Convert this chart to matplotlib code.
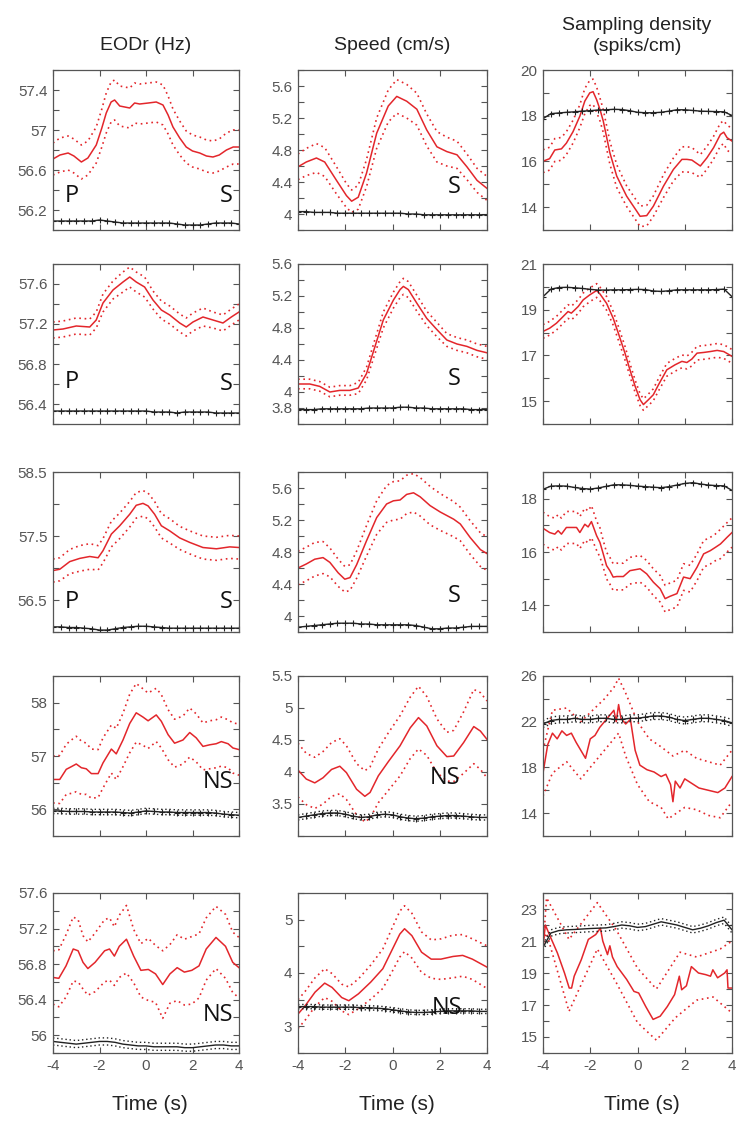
import numpy as np
import matplotlib.pyplot as plt

plt.rcParams['font.family'] = ['Liberation Sans Narrow', 'Liberation Sans', 'DejaVu Sans']

# ---------------- data ----------------
ctrl_t = np.arange(-4, 4.001, 1 / 3)   # control trace sampling (25 points)

# row 1
eod1_t = [-4, -3.7, -3.35, -3.1, -2.78, -2.5, -2.14, -1.9, -1.71, -1.5, -1.35, -1.13, -0.7, -0.49, -0.27,
          0.1, 0.44, 0.73, 0.95, 1.16, 1.45, 1.73, 2.0, 2.31, 2.6, 2.88, 3.15, 3.46, 3.75, 4.0]
eod1_mean = [56.71, 56.75, 56.77, 56.74, 56.68, 56.72, 56.85, 57.02, 57.17, 57.28, 57.30, 57.24, 57.22, 57.27, 57.26,
             57.27, 57.28, 57.25, 57.15, 57.03, 56.92, 56.83, 56.79, 56.77, 56.74, 56.73, 56.75, 56.80, 56.83, 56.83]
eod1_sem = [0.16, 0.17, 0.17, 0.17, 0.17, 0.17, 0.18, 0.19, 0.2, 0.2, 0.2, 0.2, 0.2, 0.2, 0.2,
            0.2, 0.2, 0.2, 0.19, 0.18, 0.17, 0.16, 0.16, 0.16, 0.16, 0.16, 0.16, 0.17, 0.17, 0.17]
eod1_ctrl = [56.09, 56.09, 56.09, 56.09, 56.09, 56.09, 56.1, 56.09, 56.08, 56.07, 56.07, 56.07, 56.07,
             56.07, 56.07, 56.07, 56.06, 56.05, 56.05, 56.05, 56.06, 56.07, 56.07, 56.07, 56.06]

spd1_t = [-4, -3.65, -3.22, -2.87, -2.37, -1.95, -1.73, -1.45, -1.1, -0.67, -0.18, 0.18, 0.6, 1.03, 1.45,
          1.88, 2.3, 2.73, 3.15, 3.58, 4.0]
spd1_mean = [4.59, 4.65, 4.70, 4.65, 4.42, 4.23, 4.16, 4.21, 4.51, 5.01, 5.35, 5.47, 5.41, 5.31, 5.05,
             4.84, 4.78, 4.74, 4.59, 4.42, 4.32]
spd1_sem = [0.16, 0.17, 0.18, 0.18, 0.17, 0.15, 0.14, 0.15, 0.17, 0.19, 0.2, 0.21, 0.21, 0.2, 0.2,
            0.19, 0.18, 0.17, 0.16, 0.15, 0.15]
spd1_ctrl = [4.03, 4.03, 4.02, 4.02, 4.02, 4.01, 4.01, 4.01, 4.01, 4.01, 4.01, 4.01, 4.01,
             4.01, 4.0, 4.0, 3.99, 3.99, 3.99, 3.99, 3.99, 3.99, 3.99, 3.99, 3.99]

den1_t = [-4, -3.72, -3.5, -3.22, -3.01, -2.73, -2.44, -2.23, -2.02, -1.88, -1.73, -1.59, -1.45, -1.17, -0.88,
          -0.46, -0.03, 0.11, 0.39, 0.67, 1.1, 1.52, 1.88, 2.09, 2.3, 2.66, 2.94, 3.22, 3.51, 3.65, 3.79, 4.0]
den1_mean = [16.01, 16.12, 16.5, 16.55, 16.8, 17.3, 17.98, 18.64, 19.0, 19.05, 18.7, 18.28, 17.77, 16.38, 15.36,
             14.48, 13.82, 13.6, 13.63, 14.04, 14.92, 15.65, 16.09, 16.09, 16.06, 15.8, 16.16, 16.6, 17.18, 17.28,
             17.04, 16.89]
den1_sem = [0.5, 0.5, 0.5, 0.5, 0.5, 0.5, 0.5, 0.55, 0.55, 0.55, 0.55, 0.5, 0.5, 0.5, 0.5,
            0.45, 0.45, 0.45, 0.45, 0.45, 0.5, 0.5, 0.55, 0.55, 0.55, 0.5, 0.5, 0.5, 0.5, 0.5, 0.55, 0.55]
den1_ctrl = [17.87, 18.09, 18.12, 18.15, 18.17, 18.2, 18.22, 18.25, 18.26, 18.28, 18.27, 18.22, 18.15,
             18.13, 18.13, 18.15, 18.2, 18.26, 18.26, 18.23, 18.2, 18.19, 18.18, 18.17, 18.01]

# row 2
eod2_t = [-4, -3.57, -3.0, -2.42, -2.14, -1.85, -1.42, -0.99, -0.7, -0.42, -0.06, 0.3, 0.66, 1.02, 1.45,
          1.73, 2.02, 2.45, 2.88, 3.31, 3.67, 4.0]
eod2_mean = [57.14, 57.15, 57.18, 57.17, 57.24, 57.41, 57.54, 57.62, 57.67, 57.62, 57.57, 57.44, 57.34, 57.29,
             57.21, 57.17, 57.22, 57.27, 57.24, 57.21, 57.27, 57.32]
eod2_sem = [0.08, 0.08, 0.08, 0.08, 0.08, 0.09, 0.09, 0.1, 0.1, 0.1, 0.1, 0.09, 0.09, 0.09, 0.09,
            0.09, 0.09, 0.09, 0.08, 0.08, 0.08, 0.08]
eod2_ctrl = [56.33, 56.33, 56.33, 56.33, 56.33, 56.33, 56.33, 56.33, 56.33, 56.33, 56.33, 56.33, 56.33,
             56.32, 56.32, 56.32, 56.31, 56.32, 56.32, 56.32, 56.32, 56.31, 56.31, 56.31, 56.31]

spd2_t = [-4, -3.5, -3.08, -2.65, -2.23, -1.8, -1.45, -1.1, -0.74, -0.39, 0.04, 0.32, 0.46, 0.67, 1.03,
          1.45, 1.88, 2.3, 2.73, 3.15, 3.58, 4.0]
spd2_mean = [4.10, 4.10, 4.07, 4.0, 4.02, 4.02, 4.05, 4.23, 4.57, 4.9, 5.15, 5.28, 5.32, 5.28, 5.11,
             4.92, 4.78, 4.65, 4.6, 4.57, 4.52, 4.49]
spd2_sem = [0.06, 0.06, 0.06, 0.06, 0.06, 0.06, 0.07, 0.08, 0.09, 0.1, 0.1, 0.1, 0.1, 0.1, 0.1,
            0.09, 0.09, 0.08, 0.08, 0.08, 0.08, 0.08]
spd2_ctrl = [3.78, 3.78, 3.78, 3.79, 3.79, 3.79, 3.79, 3.79, 3.79, 3.80, 3.80, 3.80, 3.80,
             3.81, 3.81, 3.80, 3.80, 3.79, 3.79, 3.79, 3.79, 3.79, 3.78, 3.78, 3.78]

den2_t = [-4, -3.72, -3.43, -3.15, -2.94, -2.8, -2.51, -2.3, -2.02, -1.73, -1.59, -1.31, -1.03, -0.81, -0.53,
          -0.32, -0.1, 0.11, 0.25, 0.46, 0.67, 0.89, 1.24, 1.59, 1.88, 2.09, 2.3, 2.52, 2.8, 3.08, 3.37, 3.65, 4.0]
den2_mean = [18.05, 18.19, 18.41, 18.7, 18.92, 18.85, 19.14, 19.43, 19.65, 19.84, 19.69, 19.28, 18.63, 17.97, 17.1,
             16.37, 15.65, 15.06, 14.85, 15.06, 15.28, 15.72, 16.37, 16.59, 16.74, 16.69, 16.84, 17.1, 17.13,
             17.17, 17.22, 17.17, 16.96]
den2_sem = [0.3, 0.3, 0.3, 0.3, 0.3, 0.3, 0.3, 0.3, 0.3, 0.3, 0.3, 0.3, 0.3, 0.3, 0.3,
            0.28, 0.27, 0.26, 0.25, 0.25, 0.26, 0.27, 0.28, 0.28, 0.28, 0.28, 0.3, 0.3, 0.3, 0.3, 0.3, 0.3, 0.3]
den2_ctrl = [19.57, 19.9, 19.97, 19.98, 19.96, 19.93, 19.89, 19.86, 19.86, 19.87, 19.87, 19.88, 19.89,
             19.88, 19.82, 19.8, 19.83, 19.87, 19.87, 19.87, 19.87, 19.87, 19.88, 19.9, 19.57]

# row 3
eod3_t = [-4, -3.71, -3.28, -2.85, -2.42, -2.06, -1.85, -1.49, -1.13, -0.7, -0.42, -0.13, 0.09, 0.37, 0.66,
          1.02, 1.45, 1.88, 2.45, 3.03, 3.6, 4.0]
eod3_mean = [56.96, 56.98, 57.10, 57.15, 57.18, 57.16, 57.27, 57.53, 57.66, 57.84, 57.98, 58.01, 57.97, 57.84,
             57.66, 57.58, 57.47, 57.40, 57.32, 57.30, 57.33, 57.32]
eod3_sem = [0.18, 0.18, 0.19, 0.2, 0.2, 0.19, 0.19, 0.2, 0.2, 0.2, 0.2, 0.2, 0.2, 0.2, 0.19,
            0.19, 0.18, 0.18, 0.18, 0.18, 0.18, 0.18]
eod3_ctrl = [56.08, 56.08, 56.07, 56.07, 56.06, 56.05, 56.03, 56.03, 56.05, 56.07, 56.08, 56.09, 56.09,
             56.08, 56.07, 56.06, 56.06, 56.06, 56.06, 56.06, 56.06, 56.06, 56.06, 56.06, 56.06]

spd3_t = [-4, -3.65, -3.29, -2.94, -2.65, -2.3, -2.02, -1.8, -1.52, -1.1, -0.67, -0.25, 0.04, 0.32, 0.6,
          0.89, 1.17, 1.59, 2.02, 2.59, 2.87, 3.29, 3.72, 4.0]
spd3_mean = [4.60, 4.65, 4.71, 4.73, 4.67, 4.54, 4.46, 4.48, 4.64, 4.94, 5.23, 5.40, 5.44, 5.45, 5.52,
             5.54, 5.49, 5.38, 5.30, 5.21, 5.15, 4.98, 4.83, 4.78]
spd3_sem = [0.21, 0.21, 0.21, 0.2, 0.18, 0.17, 0.16, 0.16, 0.17, 0.19, 0.21, 0.23, 0.24, 0.24, 0.24,
            0.24, 0.24, 0.24, 0.23, 0.22, 0.21, 0.21, 0.21, 0.21]
spd3_ctrl = [3.86, 3.87, 3.88, 3.89, 3.90, 3.91, 3.91, 3.91, 3.90, 3.90, 3.89, 3.89, 3.89,
             3.89, 3.89, 3.88, 3.86, 3.84, 3.84, 3.85, 3.85, 3.86, 3.87, 3.87, 3.87]

den3_t = [-4, -3.72, -3.5, -3.36, -3.22, -3.01, -2.58, -2.44, -2.23, -2.09, -1.95, -1.73, -1.59, -1.45, -1.31,
          -1.17, -1.03, -0.88, -0.6, -0.32, 0.11, 0.39, 0.67, 0.96, 1.17, 1.38, 1.67, 1.95, 2.23, 2.52, 2.8,
          3.08, 3.29, 3.51, 3.79, 4.0]
den3_mean = [16.89, 16.73, 16.67, 16.8, 16.67, 16.92, 16.92, 16.73, 17.04, 16.94, 17.14, 16.61, 16.36, 15.93, 15.49,
             15.30, 15.06, 15.08, 15.08, 15.3, 15.37, 15.18, 14.87, 14.62, 14.25, 14.34, 14.44, 15.06, 15.0, 15.43,
             15.93, 16.05, 16.17, 16.30, 16.55, 16.73]
den3_sem = [0.6, 0.6, 0.6, 0.6, 0.6, 0.6, 0.6, 0.6, 0.6, 0.6, 0.6, 0.55, 0.55, 0.5, 0.5,
            0.5, 0.5, 0.5, 0.5, 0.5, 0.5, 0.5, 0.5, 0.5, 0.5, 0.5, 0.5, 0.5, 0.5, 0.5,
            0.5, 0.5, 0.5, 0.55, 0.55, 0.55]
den3_ctrl = [18.35, 18.47, 18.48, 18.47, 18.42, 18.38, 18.36, 18.40, 18.46, 18.52, 18.52, 18.5, 18.47,
             18.45, 18.43, 18.41, 18.45, 18.51, 18.57, 18.6, 18.55, 18.51, 18.49, 18.48, 18.31]

# row 4
eod4_t = [-4, -3.71, -3.43, -3.21, -3.0, -2.78, -2.57, -2.35, -2.06, -1.85, -1.49, -1.28, -0.99, -0.7, -0.42,
          -0.13, 0.09, 0.44, 0.66, 0.95, 1.23, 1.59, 1.88, 2.16, 2.45, 2.74, 3.02, 3.24, 3.53, 3.74, 4.0]
eod4_mean = [56.56, 56.56, 56.75, 56.80, 56.85, 56.78, 56.76, 56.67, 56.67, 56.87, 57.13, 57.04, 57.30, 57.61,
             57.81, 57.73, 57.66, 57.77, 57.65, 57.40, 57.24, 57.30, 57.44, 57.34, 57.18, 57.21, 57.23, 57.27,
             57.23, 57.15, 57.12]
eod4_sem = [0.44, 0.45, 0.47, 0.5, 0.52, 0.5, 0.48, 0.46, 0.45, 0.47, 0.45, 0.48, 0.5, 0.55, 0.55,
            0.53, 0.52, 0.5, 0.5, 0.47, 0.45, 0.45, 0.46, 0.45, 0.44, 0.45, 0.45, 0.46, 0.45, 0.47, 0.48]
eod4_ctrl = [55.97, 55.97, 55.96, 55.96, 55.96, 55.95, 55.95, 55.95, 55.95, 55.94, 55.93, 55.95, 55.97,
             55.96, 55.95, 55.95, 55.94, 55.94, 55.94, 55.94, 55.94, 55.93, 55.91, 55.90, 55.89]

spd4_t = [-4, -3.65, -3.29, -2.94, -2.58, -2.23, -1.95, -1.52, -1.17, -0.95, -0.6, -0.18, 0.32, 0.75, 1.1,
          1.45, 1.88, 2.3, 2.59, 3.01, 3.44, 3.72, 4.0]
spd4_mean = [4.03, 3.89, 3.83, 3.91, 4.04, 4.09, 3.99, 3.73, 3.62, 3.68, 3.94, 4.16, 4.41, 4.69, 4.85,
             4.72, 4.41, 4.24, 4.25, 4.46, 4.71, 4.64, 4.51]
spd4_sem = [0.42, 0.4, 0.4, 0.41, 0.42, 0.43, 0.42, 0.4, 0.4, 0.4, 0.42, 0.45, 0.47, 0.48, 0.49,
            0.46, 0.42, 0.38, 0.4, 0.48, 0.58, 0.6, 0.6]
spd4_ctrl = [3.29, 3.31, 3.33, 3.35, 3.36, 3.36, 3.34, 3.31, 3.29, 3.3, 3.33, 3.34, 3.33,
             3.3, 3.28, 3.27, 3.28, 3.3, 3.31, 3.32, 3.32, 3.31, 3.3, 3.29, 3.29]

den4_t = [-4, -3.8, -3.6, -3.4, -3.2, -3.0, -2.8, -2.6, -2.4, -2.2, -2.0, -1.8, -1.6, -1.4, -1.2, -1.0, -0.9,
          -0.8, -0.7, -0.5, -0.3, -0.1, 0.1, 0.4, 0.7, 1.0, 1.2, 1.4, 1.5, 1.6, 1.8, 2.0, 2.3, 2.6, 3.0, 3.4,
          3.7, 4.0]
den4_mean = [17.5, 20.0, 21.0, 20.5, 21.2, 20.8, 21.0, 20.2, 19.5, 18.8, 20.5, 20.8, 21.5, 22.0, 22.5, 23.0, 22.0,
             23.5, 22.3, 21.8, 22.2, 19.5, 18.2, 17.8, 17.6, 17.2, 17.4, 16.5, 15.0, 16.8, 16.2, 17.0, 16.6, 16.2,
             16.0, 15.8, 16.2, 17.2]
den4_up_t = [-4, -3.6, -3.0, -2.4, -2.0, -1.4, -1.0, -0.8, -0.5, 0.0, 0.5, 1.0, 1.5, 2.0, 2.5, 3.0, 3.5, 4.0]
den4_up = [19.5, 23.0, 23.2, 22.0, 22.8, 24.0, 25.0, 25.8, 24.5, 22.0, 20.5, 19.8, 19.0, 19.5, 18.8, 18.5, 18.2, 19.5]
den4_lo_t = [-4, -3.6, -3.0, -2.4, -2.0, -1.4, -1.0, -0.8, -0.5, 0.0, 0.5, 1.0, 1.3, 2.0, 2.5, 3.0, 3.5, 4.0]
den4_lo = [15.5, 17.5, 18.5, 17.0, 18.0, 19.5, 20.5, 21.0, 19.0, 16.5, 15.0, 14.5, 13.5, 14.5, 14.3, 13.8, 13.6, 15.0]
den4_ctrl = [21.8, 22.1, 22.2, 22.2, 22.3, 22.2, 22.2, 22.3, 22.3, 22.2, 22.2, 22.3, 22.3,
             22.4, 22.5, 22.5, 22.4, 22.2, 22.1, 22.2, 22.3, 22.3, 22.2, 22.1, 21.9]

# row 5
eod5_t = [-4, -3.75, -3.44, -3.13, -2.92, -2.71, -2.5, -2.19, -1.78, -1.57, -1.36, -1.15, -0.84, -0.53, -0.22,
          0.1, 0.41, 0.72, 1.03, 1.34, 1.65, 1.97, 2.28, 2.59, 3.01, 3.42, 3.73, 4.0]
eod5_mean = [56.65, 56.64, 56.78, 56.97, 56.95, 56.82, 56.75, 56.82, 56.95, 56.97, 56.89, 57.0, 57.08, 56.89,
             56.73, 56.74, 56.69, 56.57, 56.69, 56.76, 56.71, 56.73, 56.78, 56.97, 57.10, 57.0, 56.82, 56.76]
eod5_sem = [0.3, 0.32, 0.35, 0.36, 0.35, 0.3, 0.3, 0.33, 0.35, 0.35, 0.33, 0.35, 0.38, 0.3,
            0.3, 0.35, 0.32, 0.38, 0.33, 0.37, 0.37, 0.38, 0.36, 0.35, 0.35, 0.36, 0.34, 0.34]
eod5_ctrl = [55.93, 55.92, 55.91, 55.9, 55.91, 55.92, 55.93, 55.93, 55.92, 55.9, 55.89, 55.88, 55.88,
             55.87, 55.87, 55.87, 55.87, 55.86, 55.86, 55.87, 55.88, 55.89, 55.89, 55.88, 55.88]

spd5_t = [-4, -3.69, -3.28, -2.87, -2.56, -2.15, -1.85, -1.44, -0.92, -0.41, 0.0, 0.31, 0.51, 0.82, 1.23,
          1.64, 2.05, 2.56, 2.97, 3.38, 4.0]
spd5_mean = [3.23, 3.39, 3.64, 3.81, 3.73, 3.54, 3.48, 3.61, 3.83, 4.08, 4.45, 4.73, 4.83, 4.70, 4.39,
             4.26, 4.26, 4.31, 4.33, 4.26, 4.11]
spd5_sem = [0.27, 0.27, 0.27, 0.27, 0.26, 0.25, 0.26, 0.28, 0.32, 0.37, 0.41, 0.43, 0.43, 0.42, 0.38,
            0.36, 0.38, 0.4, 0.39, 0.38, 0.4]
spd5_ctrl = [3.37, 3.37, 3.37, 3.36, 3.36, 3.36, 3.36, 3.36, 3.35, 3.35, 3.34, 3.33, 3.31,
             3.29, 3.27, 3.26, 3.26, 3.27, 3.28, 3.29, 3.29, 3.29, 3.29, 3.28, 3.28]

den5_t = [-4, -3.9, -3.7, -3.39, -3.09, -2.89, -2.79, -2.68, -2.38, -2.08, -1.77, -1.57, -1.47, -1.27, -1.17,
          -1.06, -0.86, -0.46, -0.15, 0.05, 0.35, 0.66, 0.96, 1.26, 1.57, 1.77, 1.87, 2.07, 2.28, 2.58, 2.88,
          3.09, 3.19, 3.39, 3.69, 3.79, 3.83, 4.0]
den5_mean = [20.67, 22.0, 21.3, 20.25, 19.0, 18.06, 18.06, 18.8, 19.83, 21.1, 21.4, 21.8, 21.0, 20.15, 20.7,
             20.0, 19.4, 18.6, 17.85, 17.75, 16.9, 16.1, 16.3, 16.9, 17.65, 18.8, 17.95, 18.2, 19.4, 19.0,
             18.9, 18.8, 19.2, 18.7, 19.0, 19.2, 18.06, 18.06]
den5_up_t = [-4, -3.85, -2.9, -1.7, -0.9, 0.0, 0.8, 1.8, 2.5, 3.5, 4.0]
den5_up = [20.5, 23.7, 21.1, 23.4, 21.7, 19.3, 18.0, 20.3, 20.0, 20.5, 21.0]
den5_lo_t = [-4, -3.85, -2.9, -1.7, -0.9, 0.0, 0.8, 1.6, 2.5, 3.2, 4.0]
den5_lo = [21.0, 21.5, 16.6, 20.5, 18.4, 15.9, 14.8, 16.2, 17.3, 17.5, 16.5]
den5_ctrl = [20.6, 21.5, 21.65, 21.7, 21.72, 21.75, 21.78, 21.8, 21.82, 21.9, 22.0, 21.95, 21.85,
             21.9, 22.05, 22.2, 22.1, 22.0, 21.85, 21.7, 21.8, 21.95, 22.15, 22.3, 21.7]

ctrl_sem_row4 = [0.05, 0.04, 0.3]
ctrl_sem_row5 = [0.04, 0.04, 0.2]

col_titles = ['EODr (Hz)', 'Speed (cm/s)', 'Sampling density\n(spiks/cm)']
row_labels = [('P', 'S'), ('P', 'S'), ('P', 'S'), ('', 'NS'), ('', 'NS')]

# ---------------- layout ----------------
W, H = 750, 1125
col_left = [53, 298, 543]
col_w = [186, 189, 189]
row_top = [70, 264, 472, 676, 893]
ax_h = 160

RED = '#e3262b'
GREY = '#555555'

panels = [
    [(eod1_t, eod1_mean, eod1_sem, eod1_ctrl), (spd1_t, spd1_mean, spd1_sem, spd1_ctrl),
     (den1_t, den1_mean, den1_sem, den1_ctrl)],
    [(eod2_t, eod2_mean, eod2_sem, eod2_ctrl), (spd2_t, spd2_mean, spd2_sem, spd2_ctrl),
     (den2_t, den2_mean, den2_sem, den2_ctrl)],
    [(eod3_t, eod3_mean, eod3_sem, eod3_ctrl), (spd3_t, spd3_mean, spd3_sem, spd3_ctrl),
     (den3_t, den3_mean, den3_sem, den3_ctrl)],
    [(eod4_t, eod4_mean, eod4_sem, eod4_ctrl), (spd4_t, spd4_mean, spd4_sem, spd4_ctrl),
     (den4_t, den4_mean, None, den4_ctrl)],
    [(eod5_t, eod5_mean, eod5_sem, eod5_ctrl), (spd5_t, spd5_mean, spd5_sem, spd5_ctrl),
     (den5_t, den5_mean, None, den5_ctrl)],
]
bands = {(3, 2): (den4_up_t, den4_up, den4_lo_t, den4_lo),
         (4, 2): (den5_up_t, den5_up, den5_lo_t, den5_lo)}

# (ylim, tick step, labelled ticks)
yaxes = [
    [((56.0, 57.6), 0.2, [56.2, 56.6, 57, 57.4]), ((3.8, 5.8), 0.2, [4, 4.4, 4.8, 5.2, 5.6]),
     ((13, 20), 1, [14, 16, 18, 20])],
    [((56.2, 57.8), 0.2, [56.4, 56.8, 57.2, 57.6]), ((3.6, 5.6), 0.2, [3.8, 4, 4.4, 4.8, 5.2, 5.6]),
     ((14, 21), 1, [15, 17, 19, 21])],
    [((56.0, 58.5), 0.5, [56.5, 57.5, 58.5]), ((3.8, 5.8), 0.2, [4, 4.4, 4.8, 5.2, 5.6]),
     ((13, 19), 1, [14, 16, 18])],
    [((55.5, 58.5), 0.5, [56, 57, 58]), ((3.0, 5.5), 0.5, [3.5, 4, 4.5, 5, 5.5]),
     ((12, 26), 2, [14, 18, 22, 26])],
    [((55.8, 57.6), 0.2, [56, 56.4, 56.8, 57.2, 57.6]), ((2.5, 5.5), 0.5, [3, 4, 5]),
     ((14, 24), 1, [15, 17, 19, 21, 23])],
]

# label positions (axes fraction)
left_lab_y = [0.21, 0.26, 0.19, 0.34, 0.24]
right_lab = [[(0.93, 0.21), (0.825, 0.27)], [(0.93, 0.25), (0.825, 0.28)], [(0.93, 0.19), (0.825, 0.225)],
             [(0.887, 0.34), (0.78, 0.36)], [(0.887, 0.24), (0.79, 0.28)]]

fig = plt.figure(figsize=(W / 100, H / 100), dpi=100)

for r in range(5):
    for c in range(3):
        ax = fig.add_axes([col_left[c] / W, 1 - (row_top[r] + ax_h) / H, col_w[c] / W, ax_h / H])
        t, m, s, ctrl = panels[r][c]
        t = np.array(t)
        m = np.array(m)
        if s is not None:
            s = np.array(s)
            ax.plot(t, m + s, color=RED, ls=(0, (1, 2.2)), lw=1.2)
            ax.plot(t, m - s, color=RED, ls=(0, (1, 2.2)), lw=1.2)
        else:
            ut, u, lt, lo = bands[(r, c)]
            ax.plot(ut, u, color=RED, ls=(0, (1, 2.2)), lw=1.2)
            ax.plot(lt, lo, color=RED, ls=(0, (1, 2.2)), lw=1.2)
        ax.plot(t, m, color=RED, lw=1.1)

        ctrl = np.array(ctrl)
        if r >= 3:
            cs = (ctrl_sem_row4 if r == 3 else ctrl_sem_row5)[c]
            ax.plot(ctrl_t, ctrl + cs, color='#222222', ls=(0, (1, 2)), lw=1.0)
            ax.plot(ctrl_t, ctrl - cs, color='#222222', ls=(0, (1, 2)), lw=1.0)
        if r < 4 or c == 1:
            ax.plot(ctrl_t, ctrl, color='#222222', lw=1.0, marker='+', ms=4.5, mew=0.8)
        else:
            ax.plot(ctrl_t, ctrl, color='#222222', lw=1.0)

        ylim, step, labelled = yaxes[r][c]
        ax.set_xlim(-4, 4)
        ax.set_ylim(*ylim)
        ticks = np.round(np.arange(ylim[0], ylim[1] + 1e-6, step), 3)
        ax.set_yticks(ticks)
        ax.set_yticklabels(['%g' % v if any(abs(v - l) < 1e-6 for l in labelled) else '' for v in ticks])
        ax.set_xticks([-4, -2, 0, 2, 4])
        if r == 4:
            ax.set_xticklabels(['-4', '-2', '0', '2', '4'])
        else:
            ax.set_xticklabels([])
        ax.tick_params(direction='in', length=4, width=0.8, color=GREY, labelcolor=GREY,
                       labelsize=11, top=True, right=True, pad=4)
        for sp in ax.spines.values():
            sp.set_color(GREY)
            sp.set_linewidth(0.9)

        if c < 2:
            left, right = row_labels[r]
            if c == 0 and left:
                ax.text(0.1, left_lab_y[r], left, transform=ax.transAxes, ha='center', va='center',
                        fontsize=17, family='Open Sans', color='#111111')
            x, y = right_lab[r][c]
            ax.text(x, y, right, transform=ax.transAxes, ha='center', va='center',
                    fontsize=17, family='Open Sans', color='#111111')

fig.text(146 / W, 1 - 45 / H, col_titles[0], ha='center', va='center', fontsize=14, color='#222222')
fig.text(392 / W, 1 - 45 / H, col_titles[1], ha='center', va='center', fontsize=14, color='#222222')
fig.text(637 / W, 1 - 36 / H, col_titles[2], ha='center', va='center', fontsize=14, color='#222222',
         linespacing=1.25)
for c in range(3):
    fig.text((col_left[c] + col_w[c] / 2 + 4) / W, 1 - 1105 / H, 'Time (s)', ha='center', va='center',
             fontsize=15, color='#222222')

fig.savefig('out.png', dpi=100)
